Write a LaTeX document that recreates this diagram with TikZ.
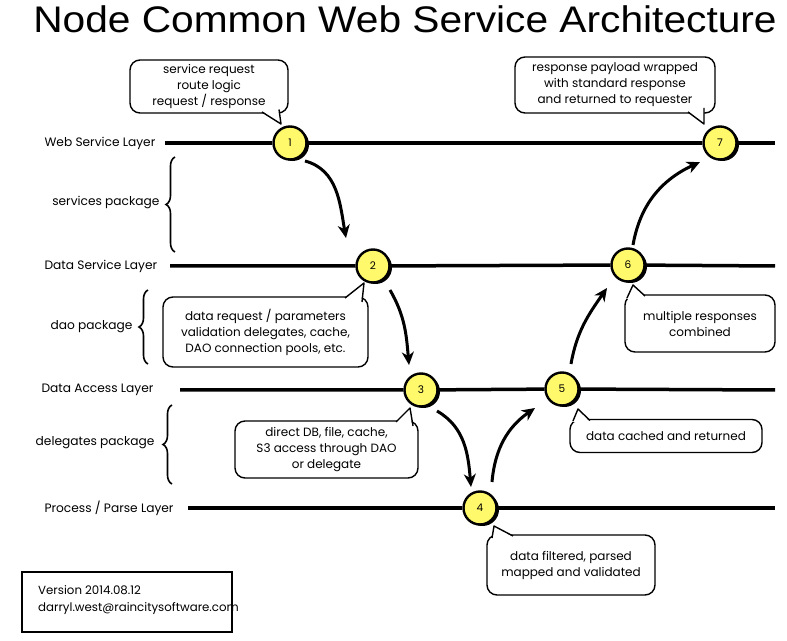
\documentclass[tikz,border=0pt]{standalone}
\usepackage{fontspec}
\setmainfont{Poppins}
\newfontfamily\titlefont[FakeStretch=1.1]{Liberation Sans}
\usetikzlibrary{arrows.meta,shadows,decorations.pathreplacing,backgrounds}
\definecolor{stepyellow}{HTML}{FFF96B}
\begin{document}
\begin{tikzpicture}[x=1pt,y=1pt,
  txt/.style={font=\fontsize{12}{16}\selectfont, align=center, text=black},
  lbl/.style={font=\fontsize{12.2}{16}\selectfont},
  stepc/.style={circle, draw, line width=2.4pt, fill=stepyellow, minimum size=33pt, inner sep=0pt,
    font=\fontsize{10.5}{12}\selectfont,
    drop shadow={shadow xshift=2.5pt, shadow yshift=-1.5pt, fill=black, opacity=1}},
  layer/.style={line width=3.5pt},
  callout/.style={draw, line width=1.4pt, rounded corners=10pt, fill=white, txt, inner sep=0pt},
  tail/.style={line width=1.4pt, line join=round},
  flow/.style={line width=3pt, -{Stealth[length=13pt,width=12pt,inset=4pt]}},
  brc/.style={decorate, decoration={brace, amplitude=9pt}, line width=1.6pt},
]
\useasboundingbox (0,0) rectangle (787,640);
% title
\node[anchor=base, font=\titlefont\fontsize{37}{40}\selectfont] (title) at (405,607) {Node Common Web Service Architecture};

% layer labels
\node[lbl, anchor=west] (l1) at (41,497) {Web Service Layer};
\node[lbl, anchor=west] (l2) at (41,374) {Data Service Layer};
\node[lbl, anchor=west] (l3) at (38,250) {Data Access Layer};
\node[lbl, anchor=west] (l4) at (41,132) {Process / Parse Layer};

% package labels and braces
\node[lbl, anchor=east] (p1) at (163,437) {services package};
\node[lbl, anchor=east] (p2) at (136,313) {dao package};
\node[lbl, anchor=east] (p3) at (158,197) {delegates package};
\draw[brc] (175,388) -- (175,483);
\draw[brc] (148,276) -- (148,350);
\draw[brc] (172,156) -- (172,235);

% step circles
\node[stepc] (c1) at (290,497) {1};
\node[stepc] (c2) at (373,374) {2};
\node[stepc] (c3) at (421,250) {3};
\node[stepc] (c4) at (480,132) {4};
\node[stepc] (c5) at (562,251) {5};
\node[stepc] (c6) at (628,375) {6};
\node[stepc] (c7) at (720,497) {7};

% layer lines
\coordinate (w0) at (165,497); \coordinate (w1) at (775,497);
\coordinate (s0) at (170,374); \coordinate (s1) at (775,374);
\coordinate (a0) at (180,250); \coordinate (a1) at (775,250);
\coordinate (r0) at (188,132); \coordinate (r1) at (775,132);
\begin{scope}[on background layer]
\draw[layer] (w0) -- (c1) -- (c7) -- (w1);
\draw[layer] (s0) -- (c2) -- (c6) -- (s1);
\draw[layer] (a0) -- (c3) -- (c5) -- (a1);
\draw[layer] (r0) -- (c4) -- (r1);
\end{scope}

% flow arrows
\draw[flow] ([shift={(15,-18)}]c1.center) to[out=-15,in=100] ([shift={(-27,28)}]c2.center);
\draw[flow] ([shift={(17,-24)}]c2.center) to[out=-60,in=95] ([shift={(-12,25)}]c3.center);
\draw[flow] ([shift={(16,-21)}]c3.center) to[out=-30,in=95] ([shift={(-9,21)}]c4.center);
\draw[flow] ([shift={(12,26)}]c4.center) to[out=85,in=215] ([shift={(-27,-19)}]c5.center);
\draw[flow] ([shift={(9,25)}]c5.center) to[out=80,in=235] ([shift={(-21,-23)}]c6.center);
\draw[flow] ([shift={(5,20)}]c6.center) to[out=80,in=205] ([shift={(-20,-19)}]c7.center);

% callouts
\node[callout, minimum width=158pt, minimum height=53pt] (b1) at (209,553.5)
  {service request\\route logic\\request / response};
\coordinate (t1) at (281,516);
\fill[white] (262,529) -- (t1) -- (279,531) -- cycle;
\draw[tail] (262,528) -- (t1) -- (279,530.5);

\node[callout, minimum width=200pt, minimum height=56pt] (b2) at (615,555)
  {response payload wrapped\\with standard response\\and returned to requester};
\coordinate (t2) at (704,516);
\fill[white] (688,529) -- (t2) -- (704,533) -- cycle;
\draw[tail] (688,528) -- (t2) -- (704,532);

\node[callout, minimum width=205pt, minimum height=70pt] (b3) at (265.5,308)
  {data request / parameters\\validation delegates, cache,\\DAO connection pools, etc.};
\coordinate (t3) at (364,357);
\fill[white] (345,341) -- (t3) -- (361,338) -- cycle;
\draw[tail] (345,342) -- (t3) -- (362,338);

\node[callout, minimum width=183pt, minimum height=57pt] (b4) at (326.5,190.5)
  {direct DB, file, cache,\\S3 access through DAO\\or delegate};
\coordinate (t4) at (410,232);
\fill[white] (396,217) -- (t4) -- (412,214) -- cycle;
\draw[tail] (396,218) -- (t4) -- (413,214);

\node[callout, minimum width=192pt, minimum height=33pt] (b5) at (666,204)
  {data cached and returned};
\coordinate (t5) at (578,231);
\fill[white] (573,218) -- (t5) -- (590,218) -- cycle;
\draw[tail] (573,219) -- (t5) -- (590,219.5);

\node[callout, minimum width=150pt, minimum height=57pt] (b6) at (700,316.5)
  {multiple responses\\combined};
\coordinate (t6) at (633,355);
\fill[white] (627,341) -- (t6) -- (645,343) -- cycle;
\draw[tail] (627,342) -- (t6) -- (645,344);

\node[callout, minimum width=168pt, minimum height=60pt] (b7) at (571,75)
  {data filtered, parsed\\mapped and validated};
\coordinate (t7) at (494,114);
\fill[white] (492,101) -- (t7) -- (513,103) -- cycle;
\draw[tail] (492,102) -- (t7) -- (513,104);

% version box
\node[draw, line width=1.8pt, minimum width=210pt, minimum height=60pt, inner sep=0pt] (vb) at (127,38) {};
\node[lbl, font=\fontsize{11.8}{17}\selectfont, anchor=north west, align=left, inner sep=0pt] (vt) at (38,55)
  {Version 2014.08.12\\darryl.west@raincitysoftware.com};
\end{tikzpicture}
\end{document}
